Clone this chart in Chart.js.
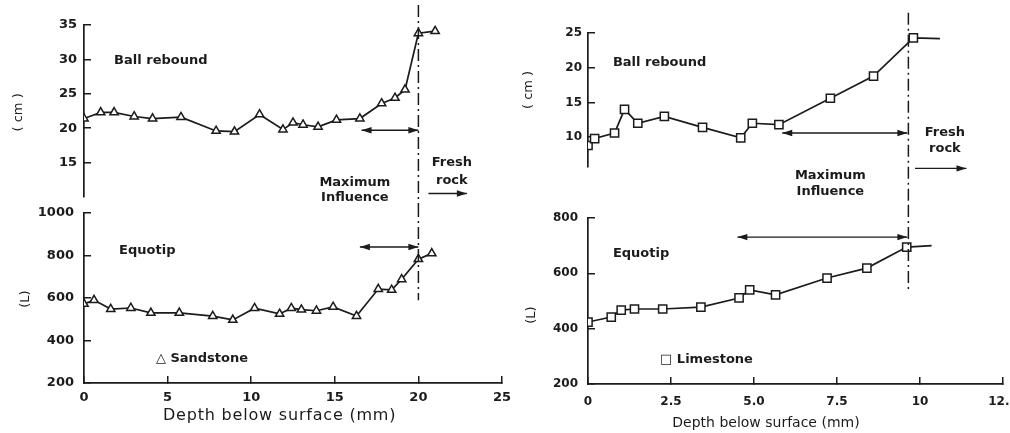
<!DOCTYPE html>
<html lang="en">
<head>
    <meta charset="UTF-8">
    <title>Ball rebound and Equotip vs depth</title>
    <script src="https://cdn.jsdelivr.net/npm/chart.js"></script>
    <style>
        html, body { margin: 0; padding: 0; background: #fff; }
        body { width: 1010px; height: 433px; overflow: hidden; position: relative; }
        canvas { position: absolute; }
    </style>
</head>
<body>
    <canvas id="cTL" width="520" height="205" style="left:0;top:0"></canvas>
    <canvas id="cBL" width="520" height="228" style="left:0;top:205px"></canvas>
    <canvas id="cTR" width="525" height="205" style="left:505px;top:0"></canvas>
    <canvas id="cBR" width="525" height="228" style="left:505px;top:205px"></canvas>

    <script>
        // sandstone, depth in mm
        const sandBallX = [0, 1.0, 1.8, 3.0, 4.1, 5.8, 7.9, 9.0, 10.5, 11.9, 12.5, 13.1, 14.0, 15.1, 16.5, 17.8, 18.6, 19.2, 20.0, 21.0];
        const sandBallY = [21.4, 22.3, 22.3, 21.7, 21.4, 21.6, 19.6, 19.5, 22.0, 19.8, 20.8, 20.5, 20.2, 21.2, 21.4, 23.6, 24.4, 25.6, 33.8, 34.1];
        const sandEqX = [0, 0.6, 1.6, 2.8, 4.0, 5.7, 7.7, 8.9, 10.2, 11.7, 12.4, 13.0, 13.9, 14.9, 16.3, 17.6, 18.4, 19.0, 20.0, 20.8];
        const sandEqY = [572, 590, 548, 553, 530, 530, 515, 497, 552, 525, 552, 545, 540, 558, 515, 642, 638, 688, 783, 810];

        // limestone (last point of each is the unmarked tail)
        const limeBallX = [0, 0.2, 0.8, 1.1, 1.5, 2.3, 3.45, 4.6, 4.95, 5.75, 7.3, 8.6, 9.8, 10.6];
        const limeBallY = [8.8, 9.8, 10.6, 14.0, 12.0, 13.0, 11.4, 9.9, 12.0, 11.8, 15.6, 18.8, 24.3, 24.2];
        const limeEqX = [0, 0.7, 1.0, 1.4, 2.25, 3.4, 4.55, 4.87, 5.65, 7.2, 8.4, 9.6, 10.35];
        const limeEqY = [424, 442, 467, 471, 471, 478, 511, 540, 522, 583, 619, 695, 700];

        // axes
        const sandXTicks = [0, 5, 10, 15, 20, 25];
        const limeXTicks = [0, 2.5, 5, 7.5, 10, 12.5];
        const limeXLabels = ['0', '2.5', '5.0', '7.5', '10', '12.5'];
        const sandBallTicks = [15, 20, 25, 30, 35];
        const sandEqTicks = [200, 400, 600, 800, 1000];
        const limeBallTicks = [10, 15, 20, 25];
        const limeEqTicks = [200, 400, 600, 800];

        const ink = '#1b1b1b';
        const FONT = 'DejaVu Sans';

        function pts(xs, ys) {
            return xs.map((v, i) => ({ x: v, y: ys[i] }));
        }

        // scale label paddings would push the plot area around; the panels are placed by layout.padding only
        function noPad(s) {
            s.paddingTop = 0; s.paddingBottom = 0; s.paddingLeft = 0; s.paddingRight = 0;
        }

        // dash-dot limits, arrows and labels, all given in data units
        const notesPlugin = {
            id: 'notes',
            afterDatasetsDraw(chart, args, opts) {
                const { ctx } = chart;
                const xs = chart.scales.x, ys = chart.scales.y;
                const px = v => xs.getPixelForValue(v);
                const py = v => v === 'top' ? 0 : v === 'bottom' ? chart.height : ys.getPixelForValue(v);
                ctx.save();
                ctx.strokeStyle = ink;
                ctx.fillStyle = ink;

                (opts.dashDot || []).forEach(d => {
                    ctx.lineWidth = 1.5;
                    ctx.setLineDash([12, 4, 2, 4]);
                    ctx.beginPath();
                    ctx.moveTo(px(d.x), py(d.y1));
                    ctx.lineTo(px(d.x), py(d.y2));
                    ctx.stroke();
                });
                ctx.setLineDash([]);

                (opts.arrows || []).forEach(a => {
                    const x1 = px(a.x1), x2 = px(a.x2), y = py(a.y);
                    ctx.lineWidth = 1.4;
                    ctx.beginPath();
                    ctx.moveTo(x1, y);
                    ctx.lineTo(x2, y);
                    ctx.stroke();
                    const head = (x, dir) => {
                        ctx.beginPath();
                        ctx.moveTo(x, y);
                        ctx.lineTo(x - dir * 10, y - 3.2);
                        ctx.lineTo(x - dir * 10, y + 3.2);
                        ctx.closePath();
                        ctx.fill();
                    };
                    head(x2, 1);
                    if (a.both) head(x1, -1);
                });

                (opts.texts || []).forEach(t => {
                    ctx.font = (t.weight || 'bold') + ' ' + (t.size || 13) + 'px "' + FONT + '"';
                    ctx.letterSpacing = (t.spacing || 0) + 'px';
                    ctx.textAlign = t.align || 'left';
                    ctx.textBaseline = 'middle';
                    if (t.rotate) {
                        ctx.save();
                        ctx.translate(px(t.x), py(t.y));
                        ctx.rotate(-Math.PI / 2);
                        ctx.fillText(t.text, 0, 0);
                        ctx.restore();
                    } else {
                        ctx.fillText(t.text, px(t.x), py(t.y));
                    }
                });
                ctx.letterSpacing = '0px';
                ctx.restore();
            }
        };

        function makeChart(id, cfg) {
            const xTicks = cfg.xTicks, yTicks = cfg.yTicks;
            new Chart(document.getElementById(id), {
                type: 'scatter',
                data: {
                    datasets: [{
                        data: pts(cfg.xs, cfg.ys),
                        showLine: true,
                        borderColor: ink,
                        borderWidth: 1.7,
                        pointStyle: cfg.marker,
                        pointBackgroundColor: '#fff',
                        pointBorderColor: ink,
                        pointBorderWidth: 1.5,
                        pointRadius: c => (cfg.tail && c.dataIndex === cfg.xs.length - 1) ? 0 : cfg.radius,
                        tension: 0
                    }]
                },
                options: {
                    responsive: false,
                    animation: false,
                    devicePixelRatio: 1,
                    layout: { padding: cfg.padding, autoPadding: false },
                    plugins: {
                        legend: { display: false },
                        tooltip: { enabled: false },
                        notes: cfg.notes
                    },
                    scales: {
                        x: {
                            type: 'linear',
                            display: cfg.showX,
                            min: xTicks[0],
                            max: xTicks[xTicks.length - 1],
                            afterBuildTicks: s => { s.ticks = xTicks.map(v => ({ value: v })); },
                            afterFit: s => { s.height = cfg.xHeight || 0; noPad(s); },
                            border: { color: ink, width: 1.7 },
                            grid: { drawOnChartArea: false, color: ink, lineWidth: 1.5, tickLength: -7 },
                            ticks: {
                                color: ink,
                                font: { family: FONT, size: cfg.tickSize, weight: 'bold' },
                                padding: cfg.xPad,
                                maxRotation: 0,
                                autoSkip: false,
                                callback: (v, i) => cfg.xLabels ? cfg.xLabels[i] : String(v)
                            }
                        },
                        y: {
                            min: cfg.yMin,
                            max: cfg.yMax,
                            afterBuildTicks: s => { s.ticks = yTicks.map(v => ({ value: v })); },
                            afterFit: s => { s.width = cfg.yWidth; noPad(s); },
                            border: { color: ink, width: 1.7 },
                            grid: { drawOnChartArea: false, color: ink, lineWidth: 1.5, tickLength: -7 },
                            ticks: {
                                color: ink,
                                font: { family: FONT, size: cfg.tickSize, weight: 'bold' },
                                padding: cfg.yPad,
                                autoSkip: false,
                                callback: v => String(v)
                            }
                        }
                    }
                },
                plugins: [notesPlugin]
            });
        }

        makeChart('cTL', {
            xs: sandBallX, ys: sandBallY, marker: 'triangle', radius: 4.8,
            xTicks: sandXTicks, showX: false, tickSize: 13,
            yMin: 10, yMax: 35, yTicks: sandBallTicks, yWidth: 84, yPad: 14,
            padding: { left: 0, top: 25, right: 18, bottom: 8 },
            notes: {
                dashDot: [{ x: 20, y1: 37.9, y2: 'bottom' }],
                arrows: [
                    { x1: 16.6, x2: 20, y: 19.7, both: true },
                    { x1: 20.6, x2: 22.9, y: 10.5 }
                ],
                texts: [
                    { text: 'Ball rebound', x: 1.8, y: 29.8 },
                    { text: 'Maximum', x: 16.2, y: 12.1, align: 'center' },
                    { text: 'Influence', x: 16.2, y: 9.9, align: 'center' },
                    { text: 'Fresh', x: 22.0, y: 15.0, align: 'center' },
                    { text: 'rock', x: 22.0, y: 12.4, align: 'center' },
                    { text: '( cm )', x: -3.9, y: 22.3, align: 'center', rotate: true, weight: 'normal' }
                ]
            }
        });

        makeChart('cBL', {
            xs: sandEqX, ys: sandEqY, marker: 'triangle', radius: 4.8,
            xTicks: sandXTicks, showX: true, xHeight: 50, xPad: 14, tickSize: 13,
            yMin: 200, yMax: 1000, yTicks: sandEqTicks, yWidth: 84, yPad: 17,
            padding: { left: 0, top: 8, right: 18, bottom: 0 },
            notes: {
                dashDot: [{ x: 20, y1: 'top', y2: 590 }],
                arrows: [{ x1: 16.5, x2: 20, y: 840, both: true }],
                texts: [
                    { text: 'Equotip', x: 2.1, y: 821 },
                    { text: '\u25B3 Sandstone', x: 4.3, y: 313 },
                    { text: '(L)', x: -3.5, y: 595, align: 'center', rotate: true, weight: 'normal' },
                    { text: 'Depth below surface (mm)', x: 11.7, y: 45, align: 'center', size: 16, weight: 'normal', spacing: 0.8 }
                ]
            }
        });

        makeChart('cTR', {
            xs: limeBallX, ys: limeBallY, marker: 'rect', radius: 5.8, tail: true,
            xTicks: limeXTicks, showX: false, tickSize: 12,
            yMin: 5.7, yMax: 25, yTicks: limeBallTicks, yWidth: 83, yPad: 13,
            padding: { left: 0, top: 33, right: 27, bottom: 38 },
            notes: {
                dashDot: [{ x: 9.65, y1: 27.9, y2: 'bottom' }],
                arrows: [
                    { x1: 5.85, x2: 9.62, y: 10.6, both: true },
                    { x1: 9.85, x2: 11.4, y: 5.5 }
                ],
                texts: [
                    { text: 'Ball rebound', x: 0.75, y: 20.7 },
                    { text: 'Fresh', x: 10.75, y: 10.7, align: 'center' },
                    { text: 'rock', x: 10.75, y: 8.4, align: 'center' },
                    { text: 'Maximum', x: 7.3, y: 4.5, align: 'center' },
                    { text: 'Influence', x: 7.3, y: 2.1, align: 'center' },
                    { text: '( cm )', x: -1.8, y: 16.8, align: 'center', rotate: true, weight: 'normal' }
                ]
            }
        });

        makeChart('cBR', {
            xs: limeEqX, ys: limeEqY, marker: 'rect', radius: 5.8, tail: true,
            xTicks: limeXTicks, xLabels: limeXLabels, showX: true, xHeight: 49, xPad: 18, tickSize: 12,
            yMin: 200, yMax: 800, yTicks: limeEqTicks, yWidth: 83, yPad: 17,
            padding: { left: 0, top: 13, right: 27, bottom: 0 },
            notes: {
                dashDot: [{ x: 9.65, y1: 'top', y2: 540 }],
                arrows: [{ x1: 4.5, x2: 9.62, y: 731, both: true }],
                texts: [
                    { text: 'Equotip', x: 0.75, y: 673 },
                    { text: '\u25A1 Limestone', x: 2.17, y: 287 },
                    { text: '(L)', x: -1.7, y: 449, align: 'center', rotate: true, weight: 'normal' },
                    { text: 'Depth below surface (mm)', x: 5.36, y: 59, align: 'center', size: 14, weight: 'normal' }
                ]
            }
        });
    </script>
</body>
</html>
